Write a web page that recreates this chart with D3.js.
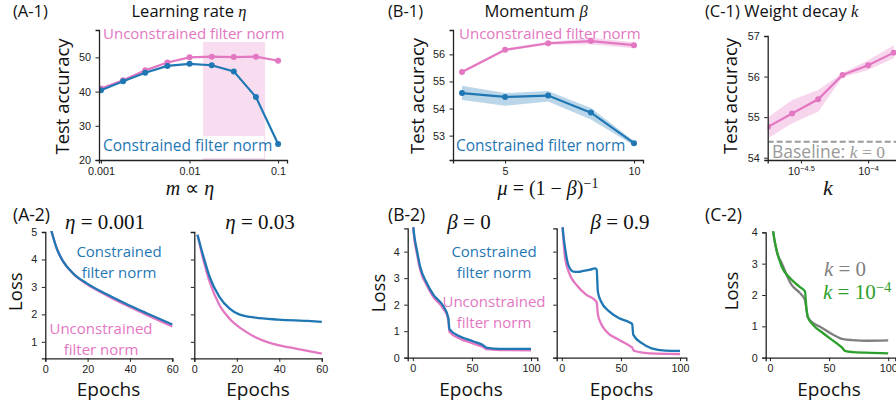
<!DOCTYPE html>
<html>
<head>
<meta charset="utf-8">
<script src="https://cdn.jsdelivr.net/npm/d3@7"></script>
<style>
  body { margin: 0; background: #fff; }
  svg { display: block; }
  .tick text { font-family: "Liberation Sans", Arial, sans-serif; font-size: 10.8px; fill: #222; }
</style>
</head>
<body>
<script>
// ---- data ----
const lrValues = [0.001, 0.00178, 0.00316, 0.00562, 0.01, 0.0178, 0.0316, 0.0562, 0.1];
const lrUnconstrained = [40.9, 43.3, 46.2, 48.5, 50.0, 50.2, 50.1, 50.2, 49.0];
const lrConstrained = [40.4, 43.0, 45.5, 47.5, 48.1, 47.7, 45.9, 38.4, 24.7];
const lrShade = [0.0142, 0.0713];
const lrShadeTop = 54.5;

const muValues = [3.33, 5, 6.67, 8.33, 10];
const muUnconstrained = [55.35, 56.17, 56.41, 56.49, 56.34];
const muUnconstrainedLo = [55.30, 56.12, 56.36, 56.37, 56.23];
const muUnconstrainedHi = [55.40, 56.22, 56.46, 56.61, 56.45];
const muConstrained = [54.57, 54.43, 54.48, 53.85, 52.72];
const muConstrainedLo = [54.32, 54.10, 54.26, 53.60, 52.64];
const muConstrainedHi = [54.84, 54.57, 54.65, 54.02, 52.80];

const wdValues = [1.8e-5, 2.72e-5, 4.25e-5, 6.45e-5, 1.0e-4, 1.55e-4];
const wdAcc = [54.76, 55.09, 55.44, 56.04, 56.28, 56.59];
const wdLo = [54.48, 54.85, 55.13, 55.98, 56.16, 56.45];
const wdHi = [55.00, 55.42, 55.67, 56.09, 56.40, 56.77];
const wdBaseline = 54.39;

// A-2, eta = 0.001
const a2lEpochs = [1, 3, 5.4, 8.5, 13.2, 19.6, 29, 38.5, 47.9, 60];
const a2lConstrained = [5.6, 5.01, 4.40, 3.92, 3.49, 3.13, 2.73, 2.37, 2.04, 1.63];
const a2lUnconstrained = [5.6, 5.01, 4.40, 3.92, 3.48, 3.10, 2.69, 2.32, 1.98, 1.56];
// A-2, eta = 0.03
const a2rEpochs = [1.5, 4.1, 7.2, 11.8, 16.5, 21.1, 28.8, 39.5, 53.3, 60];
const a2rConstrained = [4.9, 4.16, 3.37, 2.64, 2.22, 2.0, 1.88, 1.81, 1.76, 1.73];
const a2rEpochsU = [1.5, 4.1, 7.2, 11.8, 16.5, 24.2, 31.8, 39.5, 47.2, 60];
const a2rUnconstrained = [4.9, 4.04, 3.19, 2.34, 1.85, 1.37, 1.06, 0.88, 0.76, 0.57];

// B-2, beta = 0
const b2lEpochs = [0, 1, 3.4, 6.2, 11.9, 17.5, 26, 30, 31, 40, 51.4, 61, 62, 74, 100];
const b2lConstrained = [5.2, 4.7, 4.07, 3.44, 2.81, 2.37, 1.93, 1.52, 1.08, 0.80, 0.61, 0.42, 0.38, 0.33, 0.33];
const b2lUnconstrained = [5.2, 4.6, 3.95, 3.33, 2.72, 2.28, 1.84, 1.45, 0.98, 0.72, 0.53, 0.36, 0.32, 0.29, 0.28];
// B-2, beta = 0.9
const b2rEpochsC = [0, 0.8, 2.8, 5.5, 9.7, 14, 18, 24, 28, 29.5, 30.5, 33.3, 40.3, 48.6, 57, 59.5, 60.5, 68, 76, 87.5, 100];
const b2rConstrained = [5.4, 4.88, 4.13, 3.50, 3.25, 3.24, 3.27, 3.32, 3.37, 3.33, 2.49, 2.11, 1.74, 1.49, 1.34, 1.27, 0.86, 0.54, 0.35, 0.27, 0.26];
const b2rEpochsU = [0, 2.8, 6.9, 12.5, 20.8, 27.8, 29.5, 30.5, 33, 37.5, 48.6, 58.3, 59.5, 61, 70, 80, 100];
const b2rUnconstrained = [5.4, 3.75, 3.12, 2.74, 2.37, 2.18, 2.09, 1.65, 1.30, 1.0, 0.67, 0.42, 0.38, 0.26, 0.18, 0.15, 0.14];

// C-2
const c2EpochsWd = [0, 2.8, 5.6, 9.9, 16.9, 25.4, 29.6, 30.8, 32, 36.6, 45, 56.4, 59.2, 61, 63.4, 70, 81.7, 100];
const c2Wd = [5.0, 4.0, 3.44, 2.91, 2.54, 2.25, 2.11, 1.6, 1.30, 1.04, 0.78, 0.46, 0.38, 0.32, 0.22, 0.18, 0.16, 0.14];
const c2EpochsBase = [0, 2.8, 5.6, 9.9, 18.3, 25.4, 29.6, 30.8, 32, 36.6, 42.3, 53.5, 62, 70, 81.7, 100];
const c2Base = [5.0, 4.0, 3.40, 3.02, 2.32, 2.06, 1.84, 1.55, 1.30, 1.10, 0.99, 0.73, 0.59, 0.56, 0.54, 0.55];

const BLUE = "#1f77b4", PINK = "#e377c2", GREEN = "#2ca02c", GREY = "#7f7f7f";
const SANS = '"Open Sans", sans-serif', SERIF = '"Liberation Serif", serif';

const svg = d3.select("body").append("svg").attr("width", 896).attr("height", 406);
const defs = svg.append("defs");
let clipN = 0;

function frame(x, y, o) {
    const g = svg.append("g");
    const ax = d3.axisBottom(x).tickSizeOuter(0).tickSize(3.5).tickPadding(3.5)
        .tickValues(o.xticks).tickFormat(o.xfmt || (d => String(d)));
    g.append("g").attr("transform", `translate(0,${y.range()[0]})`).call(ax);
    const ay = d3.axisLeft(y).tickSizeOuter(0).tickSize(3.5).tickPadding(4.5)
        .tickValues(o.yticks).tickFormat(o.noY ? "" : (d => String(d)));
    g.append("g").attr("transform", `translate(${x.range()[0]},0)`).call(ay);
    g.selectAll(".domain").attr("stroke", "#222").attr("stroke-width", 1.3);
    g.selectAll(".tick line").attr("stroke", "#222").attr("stroke-width", 1);
    const id = "clip" + (clipN++);
    defs.append("clipPath").attr("id", id).append("rect")
        .attr("x", x.range()[0]).attr("y", y.range()[1] - 1)
        .attr("width", x.range()[1] - x.range()[0] + 2)
        .attr("height", y.range()[0] - y.range()[1] + 1);
    const body = svg.append("g").attr("clip-path", `url(#${id})`);
    body.lower();
    return { axes: g, body: body };
}

function band(g, x, y, xs, lo, hi, color) {
    g.append("path").datum(xs.map((v, i) => [v, lo[i], hi[i]]))
        .attr("fill", color).attr("fill-opacity", 0.3)
        .attr("d", d3.area().x(d => x(d[0])).y0(d => y(d[1])).y1(d => y(d[2])));
}

function dotted(g, x, y, xs, ys, color) {
    const pts = xs.map((v, i) => [v, ys[i]]);
    g.append("path").datum(pts).attr("fill", "none").attr("stroke", color).attr("stroke-width", 2.2)
        .attr("d", d3.line().x(d => x(d[0])).y(d => y(d[1])));
    g.selectAll(null).data(pts).enter().append("circle")
        .attr("cx", d => x(d[0])).attr("cy", d => y(d[1])).attr("r", 3).attr("fill", color);
}

function curve(g, x, y, xs, ys, color) {
    g.append("path").datum(xs.map((v, i) => [v, ys[i]]))
        .attr("fill", "none").attr("stroke", color).attr("stroke-width", 2.3)
        .attr("d", d3.line().curve(d3.curveMonotoneX).x(d => x(d[0])).y(d => y(d[1])));
}

function rich(x, y, parts, size, anchor, color) {
    const t = svg.append("text").attr("x", x).attr("y", y).attr("font-size", size)
        .attr("text-anchor", anchor || "start").attr("fill", color || "#111");
    parts.forEach(p => {
        const s = t.append("tspan").text(p[0]);
        if (p[1] === "i") s.attr("font-family", SERIF).attr("font-style", "italic");
        else if (p[1] === "r") s.attr("font-family", SERIF);
        else if (p[1] === "sup") s.attr("font-family", SERIF).attr("font-size", size * 0.7).attr("dy", "-0.5em");
        else s.attr("font-family", SANS);
    });
    return t;
}

function ylabel(x, y, text, size) {
    svg.append("text").attr("transform", `translate(${x},${y}) rotate(-90)`)
        .attr("text-anchor", "middle").attr("font-family", SANS).attr("font-size", size || 18.5)
        .attr("fill", "#111").text(text);
}

// one text element, lines stacked as tspans
function label(x, y, lines, color, size, anchor) {
    const t = svg.append("text").attr("x", x).attr("y", y).attr("text-anchor", anchor || "middle")
        .attr("font-family", SANS).attr("font-size", size || 15).attr("fill", color);
    lines.forEach((l, i) => {
        t.append("tspan").attr("x", x).attr("dy", i === 0 ? 0 : 20.5).text(l);
    });
}

// ---- (A-1) ----
{
    const x = d3.scaleLog().domain([0.00095, 0.126]).range([99, 287]);
    const y = d3.scaleLinear().domain([20, 58]).range([160, 30]);
    const f = frame(x, y, { xticks: [0.001, 0.01, 0.1], yticks: [20, 30, 40, 50] });
    f.body.append("rect").attr("x", x(lrShade[0])).attr("width", x(lrShade[1]) - x(lrShade[0]))
        .attr("y", y(lrShadeTop)).attr("height", y(20) - y(lrShadeTop))
        .attr("fill", PINK).attr("fill-opacity", 0.25);
    dotted(f.body, x, y, lrValues, lrUnconstrained, PINK);
    dotted(f.body, x, y, lrValues, lrConstrained, BLUE);
    rich(13, 17, [["(A-1)", "s"]], 16.5);
    rich(189, 17, [["Learning rate ", "s"], ["η", "i"]], 16.5, "middle");
    label(103, 38.5, ["Unconstrained filter norm"], PINK, 15, "start");
    svg.append("rect").attr("x", 101).attr("y", 136).attr("width", 163).attr("height", 22).attr("fill", "#fff");
    label(103, 151, ["Constrained filter norm"], BLUE, 15.5, "start");
    ylabel(68.5, 96.5, "Test accuracy");
    rich(190, 195, [["m", "i"], [" ∝ ", "r"], ["η", "i"]], 20, "middle");
}

// ---- (B-1) ----
{
    const x = d3.scaleLinear().domain([2.98, 10.35]).range([453, 643]);
    const y = d3.scaleLinear().domain([52.1, 56.9]).range([160, 30]);
    const f = frame(x, y, { xticks: [5, 10], yticks: [53, 54, 55, 56] });
    band(f.body, x, y, muValues, muUnconstrainedLo, muUnconstrainedHi, PINK);
    band(f.body, x, y, muValues, muConstrainedLo, muConstrainedHi, BLUE);
    dotted(f.body, x, y, muValues, muUnconstrained, PINK);
    dotted(f.body, x, y, muValues, muConstrained, BLUE);
    rich(388, 17, [["(B-1)", "s"]], 16.5);
    rich(536, 17, [["Momentum ", "s"], ["β", "i"]], 16.5, "middle");
    label(459, 38.5, ["Unconstrained filter norm"], PINK, 15, "start");
    label(456, 151, ["Constrained filter norm"], BLUE, 15.5, "start");
    ylabel(423.5, 96, "Test accuracy");
    rich(548, 195, [["μ", "i"], [" = (1 − ", "r"], ["β", "i"], [")", "r"], ["−1", "sup"]], 20, "middle");
}

// ---- (C-1) ----
{
    const x = d3.scaleLog().domain([Math.pow(10, -4.747), Math.pow(10, -3.54)]).range([767.7, 930]);
    const y = d3.scaleLinear().domain([53.943, 57]).range([160, 36]);
    const f = frame(x, y, { xticks: [Math.pow(10, -4.5), 1e-4], xfmt: () => "10", yticks: [54, 55, 56, 57] });
    f.axes.selectAll(".tick text").filter(function () { return this.textContent === "10"; })
        .each(function (d, i) {
            d3.select(this).append("tspan").attr("dy", "-0.55em").attr("font-size", "7.5px")
                .text(i === 0 ? "−4.5" : "−4");
        });
    f.body.append("line").attr("x1", x.range()[0]).attr("x2", 900)
        .attr("y1", y(wdBaseline)).attr("y2", y(wdBaseline))
        .attr("stroke", "#999").attr("stroke-width", 2).attr("stroke-dasharray", "6,3");
    band(f.body, x, y, wdValues, wdLo, wdHi, PINK);
    dotted(f.body, x, y, wdValues, wdAcc, PINK);
    rich(705, 17, [["(C-1) Weight decay ", "s"], ["k", "i"]], 16.5);
    rich(772, 158, [["Baseline: ", "s"], ["k", "i"], [" = 0", "r"]], 17.5, "start", "#999");
    ylabel(736.5, 96, "Test accuracy");
    rich(828, 195, [["k", "i"]], 22, "middle");
}

// ---- (A-2) ----
{
    const y = d3.scaleLinear().domain([0.4, 5.0]).range([358.3, 232]);
    const xl = d3.scaleLinear().domain([0, 60]).range([45.3, 172.3]);
    const xr = d3.scaleLinear().domain([0, 60]).range([194.3, 321.8]);
    const fl = frame(xl, y, { xticks: [0, 20, 40, 60], yticks: [1, 2, 3, 4, 5] });
    curve(fl.body, xl, y, a2lEpochs, a2lUnconstrained, PINK);
    curve(fl.body, xl, y, a2lEpochs, a2lConstrained, BLUE);
    const fr = frame(xr, y, { xticks: [0, 20, 40, 60], yticks: [1, 2, 3, 4, 5], noY: true });
    curve(fr.body, xr, y, a2rEpochsU, a2rUnconstrained, PINK);
    curve(fr.body, xr, y, a2rEpochs, a2rConstrained, BLUE);
    rich(13, 221, [["(A-2)", "s"]], 17.5);
    rich(105, 229, [["η", "i"], [" = 0.001", "r"]], 21, "middle");
    rich(260, 229, [["η", "i"], [" = 0.03", "r"]], 21, "middle");
    label(119, 257, ["Constrained", "filter norm"], BLUE);
    label(101, 334, ["Unconstrained", "filter norm"], PINK);
    ylabel(21.5, 291.7, "Loss");
    label(108.5, 396, ["Epochs"], "#111", 19);
    label(258, 396, ["Epochs"], "#111", 19);
}

// ---- (B-2) ----
{
    const y = d3.scaleLinear().domain([0, 4.88]).range([357.7, 228.3]);
    const xl = d3.scaleLinear().domain([-4.3, 105.3]).range([407.7, 537.3]);
    const xr = d3.scaleLinear().domain([-4.3, 105.3]).range([556.7, 686.3]);
    const fl = frame(xl, y, { xticks: [0, 50, 100], yticks: [0, 1, 2, 3, 4] });
    curve(fl.body, xl, y, b2lEpochs, b2lUnconstrained, PINK);
    curve(fl.body, xl, y, b2lEpochs, b2lConstrained, BLUE);
    const fr = frame(xr, y, { xticks: [0, 50, 100], yticks: [0, 1, 2, 3, 4], noY: true });
    curve(fr.body, xr, y, b2rEpochsU, b2rUnconstrained, PINK);
    curve(fr.body, xr, y, b2rEpochsC, b2rConstrained, BLUE);
    rich(388, 221, [["(B-2)", "s"]], 17.5);
    rich(469, 229, [["β", "i"], [" = 0", "r"]], 21, "middle");
    rich(620, 229, [["β", "i"], [" = 0.9", "r"]], 21, "middle");
    label(494, 257, ["Constrained", "filter norm"], BLUE);
    label(494, 307, ["Unconstrained", "filter norm"], PINK);
    ylabel(385, 293, "Loss");
    label(471, 396, ["Epochs"], "#111", 19);
    label(621.5, 396, ["Epochs"], "#111", 19);
}

// ---- (C-2) ----
{
    const y = d3.scaleLinear().domain([0, 4.0]).range([357.7, 232.3]);
    const x = d3.scaleLinear().domain([-3.6, 106]).range([765.7, 895.3]);
    const f = frame(x, y, { xticks: [0, 50, 100], yticks: [0, 1, 2, 3, 4] });
    curve(f.body, x, y, c2EpochsBase, c2Base, GREY);
    curve(f.body, x, y, c2EpochsWd, c2Wd, GREEN);
    rich(705, 221, [["(C-2)", "s"]], 17.5);
    rich(845, 276, [["k", "i"], [" = 0", "r"]], 21, "middle", GREY);
    rich(823, 299, [["k", "i"], [" = 10", "r"], ["−4", "sup"]], 21, "start", GREEN);
    ylabel(738, 291, "Loss");
    label(829, 396, ["Epochs"], "#111", 19);
}
</script>
</body>
</html>
